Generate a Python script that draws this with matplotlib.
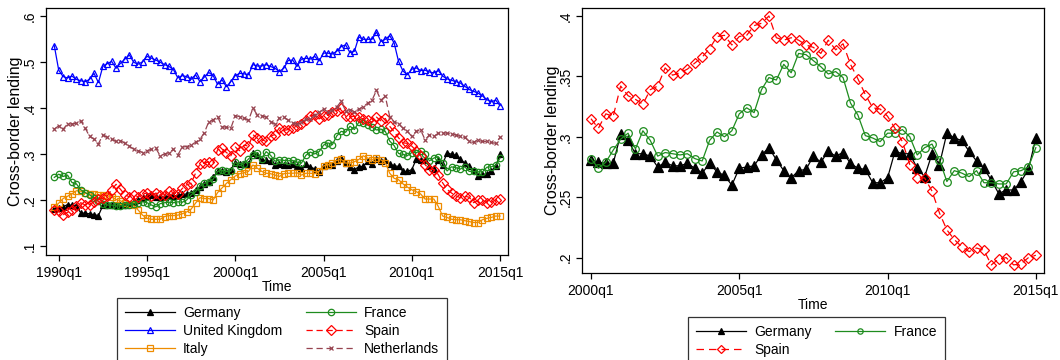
import numpy as np
import matplotlib
matplotlib.use("Agg")
import matplotlib.pyplot as plt
from matplotlib.ticker import FuncFormatter

plt.rcParams['font.family'] = ['Liberation Sans', 'DejaVu Sans']

# quarters counted from 1990q1 (0) ; left panel runs 1989q4..2015q1, right 2000q1..2015q1
t_left = np.arange(-1, 101)
t_right = np.arange(40, 101)

# 2000q1 - 2015q1
germany_00 = [0.281, 0.279, 0.278, 0.278, 0.302, 0.297, 0.286, 0.286, 0.284, 0.275,
              0.279, 0.276, 0.276, 0.278, 0.274, 0.270, 0.278, 0.271, 0.268, 0.260,
              0.274, 0.275, 0.276, 0.285, 0.291, 0.281, 0.272, 0.266, 0.272, 0.273,
              0.284, 0.279, 0.288, 0.284, 0.287, 0.278, 0.274, 0.273, 0.262, 0.262,
              0.266, 0.288, 0.286, 0.286, 0.274, 0.267, 0.286, 0.277, 0.303, 0.299,
              0.297, 0.288, 0.280, 0.274, 0.264, 0.253, 0.256, 0.256, 0.263, 0.273,
              0.299]
france_00 = [0.282, 0.274, 0.279, 0.289, 0.298, 0.303, 0.290, 0.305, 0.297, 0.284,
             0.287, 0.286, 0.285, 0.286, 0.282, 0.280, 0.297, 0.304, 0.300, 0.305,
             0.319, 0.324, 0.320, 0.339, 0.349, 0.347, 0.360, 0.353, 0.369, 0.368,
             0.363, 0.358, 0.352, 0.354, 0.349, 0.328, 0.318, 0.301, 0.299, 0.296,
             0.303, 0.303, 0.306, 0.300, 0.285, 0.291, 0.294, 0.281, 0.263, 0.272,
             0.270, 0.267, 0.272, 0.262, 0.262, 0.261, 0.261, 0.271, 0.272, 0.275,
             0.291]
spain_00 = [0.315, 0.307, 0.319, 0.317, 0.342, 0.334, 0.331, 0.327, 0.339, 0.342,
            0.357, 0.351, 0.353, 0.356, 0.361, 0.366, 0.373, 0.383, 0.384, 0.376,
            0.383, 0.384, 0.392, 0.394, 0.400, 0.382, 0.380, 0.382, 0.380, 0.376,
            0.374, 0.369, 0.380, 0.372, 0.377, 0.360, 0.348, 0.335, 0.324, 0.323,
            0.317, 0.307, 0.296, 0.277, 0.266, 0.266, 0.255, 0.237, 0.223, 0.215,
            0.209, 0.205, 0.208, 0.206, 0.194, 0.199, 0.200, 0.194, 0.195, 0.200,
            0.202]

# 1989q4 - 1999q4
germany_90 = [0.180, 0.182, 0.185, 0.190, 0.188, 0.186, 0.172, 0.171, 0.170, 0.168,
              0.166, 0.188, 0.189, 0.190, 0.188, 0.188, 0.190, 0.192, 0.196, 0.200,
              0.204, 0.208, 0.210, 0.207, 0.207, 0.206, 0.209, 0.209, 0.210, 0.212,
              0.213, 0.216, 0.221, 0.228, 0.234, 0.238, 0.250, 0.262, 0.263, 0.260,
              0.266]
france_90 = [0.249, 0.256, 0.251, 0.254, 0.238, 0.235, 0.222, 0.216, 0.211, 0.204,
             0.197, 0.191, 0.189, 0.189, 0.187, 0.187, 0.189, 0.190, 0.192, 0.194,
             0.196, 0.194, 0.189, 0.185, 0.192, 0.194, 0.195, 0.194, 0.196, 0.195,
             0.200, 0.211, 0.218, 0.230, 0.236, 0.240, 0.245, 0.262, 0.264, 0.262,
             0.262]
spain_90 = [0.178, 0.175, 0.168, 0.173, 0.178, 0.186, 0.194, 0.189, 0.190, 0.196,
            0.201, 0.204, 0.209, 0.222, 0.234, 0.223, 0.211, 0.207, 0.211, 0.207,
            0.213, 0.215, 0.209, 0.215, 0.211, 0.211, 0.220, 0.216, 0.213, 0.225,
            0.233, 0.236, 0.258, 0.278, 0.280, 0.283, 0.281, 0.309, 0.312, 0.303,
            0.296]

# 1989q4 - 2015q1
uk = [0.535, 0.482, 0.468, 0.465, 0.469, 0.462, 0.459, 0.457, 0.462, 0.475,
      0.455, 0.490, 0.496, 0.501, 0.486, 0.497, 0.506, 0.515, 0.499, 0.495,
      0.500, 0.512, 0.508, 0.504, 0.499, 0.494, 0.490, 0.483, 0.465, 0.470,
      0.468, 0.462, 0.472, 0.457, 0.467, 0.477, 0.470, 0.451, 0.461, 0.446,
      0.457, 0.470, 0.475, 0.474, 0.472, 0.494, 0.491, 0.491, 0.494, 0.490,
      0.486, 0.479, 0.486, 0.503, 0.504, 0.490, 0.506, 0.508, 0.506, 0.512,
      0.502, 0.519, 0.519, 0.517, 0.523, 0.533, 0.537, 0.520, 0.523, 0.554,
      0.549, 0.549, 0.549, 0.565, 0.544, 0.549, 0.557, 0.541, 0.501, 0.480,
      0.472, 0.484, 0.487, 0.481, 0.482, 0.478, 0.476, 0.481, 0.469, 0.463,
      0.460, 0.457, 0.454, 0.447, 0.440, 0.436, 0.432, 0.426, 0.418, 0.413,
      0.417, 0.405]
italy = [0.184, 0.193, 0.203, 0.208, 0.213, 0.220, 0.219, 0.215, 0.213, 0.212,
         0.210, 0.211, 0.209, 0.206, 0.201, 0.198, 0.194, 0.191, 0.188, 0.178,
         0.167, 0.160, 0.158, 0.158, 0.158, 0.164, 0.166, 0.166, 0.167, 0.170,
         0.174, 0.180, 0.193, 0.205, 0.203, 0.203, 0.200, 0.216, 0.226, 0.236,
         0.244, 0.252, 0.257, 0.259, 0.262, 0.276, 0.269, 0.262, 0.258, 0.257,
         0.254, 0.251, 0.257, 0.258, 0.258, 0.259, 0.254, 0.258, 0.258, 0.257,
         0.262, 0.274, 0.276, 0.281, 0.286, 0.288, 0.280, 0.280, 0.283, 0.288,
         0.296, 0.291, 0.287, 0.291, 0.287, 0.281, 0.258, 0.247, 0.244, 0.235,
         0.228, 0.222, 0.218, 0.213, 0.202, 0.202, 0.202, 0.186, 0.165, 0.162,
         0.158, 0.157, 0.157, 0.155, 0.153, 0.151, 0.151, 0.157, 0.160, 0.162,
         0.165, 0.165]
netherlands = [0.354, 0.361, 0.354, 0.365, 0.365, 0.367, 0.372, 0.356, 0.338, 0.332,
               0.322, 0.341, 0.336, 0.332, 0.327, 0.329, 0.323, 0.317, 0.310, 0.307,
               0.303, 0.307, 0.310, 0.312, 0.296, 0.300, 0.303, 0.310, 0.298, 0.315,
               0.316, 0.320, 0.325, 0.332, 0.346, 0.370, 0.374, 0.381, 0.359, 0.358,
               0.356, 0.383, 0.381, 0.378, 0.373, 0.399, 0.385, 0.383, 0.380, 0.370,
               0.365, 0.378, 0.380, 0.373, 0.368, 0.365, 0.370, 0.375, 0.375, 0.385,
               0.390, 0.397, 0.390, 0.396, 0.402, 0.414, 0.394, 0.396, 0.392, 0.397,
               0.403, 0.410, 0.417, 0.438, 0.417, 0.425, 0.381, 0.370, 0.365, 0.356,
               0.349, 0.338, 0.349, 0.352, 0.331, 0.341, 0.338, 0.345, 0.346, 0.345,
               0.344, 0.341, 0.338, 0.336, 0.327, 0.325, 0.331, 0.327, 0.327, 0.325,
               0.323, 0.336]

germany = germany_90 + germany_00
france = france_90 + france_00
spain = spain_90 + spain_00

ticks_left = [0, 20, 40, 60, 80, 100]
labels_left = ['1990q1', '1995q1', '2000q1', '2005q1', '2010q1', '2015q1']
ticks_right = [40, 60, 80, 100]
labels_right = ['2000q1', '2005q1', '2010q1', '2015q1']

c_ger, c_uk, c_ita = 'black', '#0000ff', '#ee8c00'
c_fra, c_spa, c_ned = '#1e8c1e', '#ff0000', '#974450'

W, H = 1060, 360
fig = plt.figure(figsize=(W / 100, H / 100), dpi=100)
ax1 = fig.add_axes([46 / W, 1 - 255 / H, 462 / W, 247 / H])
ax2 = fig.add_axes([582 / W, 1 - 273 / H, 462 / W, 265 / H])


def dotless(v, pos):
    s = ('%.2f' % v).rstrip('0')
    return s[1:] if s.startswith('0') else s


def style(ax, xt, xl):
    for sp in ax.spines.values():
        sp.set_linewidth(0.9)
    ax.set_xticks(xt)
    ax.set_xticklabels(xl)
    ax.tick_params(direction='out', length=4.3, width=0.9, labelsize=10, colors='black')
    ax.tick_params(axis='y', labelrotation=90, pad=2.6)
    for lab in ax.get_yticklabels():
        lab.set_va('center')
    ax.yaxis.set_major_formatter(FuncFormatter(dotless))
    ax.set_xlabel('Time', fontsize=10, labelpad=0)
    ax.set_ylabel('Cross-border lending', fontsize=11.5)
    # rotated label anchored ~22 px left of the spine
    ax.yaxis.set_label_coords(-22.5 / 462, 0.5)


ms = 4.6
kw = dict(lw=0.9, mew=0.9, ms=ms)
h_ger, = ax1.plot(t_left, germany, color=c_ger, marker='^', **kw, label='Germany')
h_uk, = ax1.plot(t_left, uk, color=c_uk, marker='^', mfc='none', **kw, label='United Kingdom')
h_ita, = ax1.plot(t_left, italy, color=c_ita, marker='s', mfc='none', **kw, label='Italy')
h_fra, = ax1.plot(t_left, france, color=c_fra, marker='o', mfc='none', **kw, label='France')
h_spa, = ax1.plot(t_left, spain, color=c_spa, marker='D', mfc='none', dashes=(5, 3), **kw, label='Spain')
h_ned, = ax1.plot(t_left, netherlands, color=c_ned, marker='x', dashes=(5, 3), lw=0.9, mew=0.9, ms=3.5,
                  label='Netherlands')
style(ax1, ticks_left, labels_left)
ax1.set_yticks([0.1, 0.2, 0.3, 0.4, 0.5, 0.6])
ax1.set_xlim(-2.88, 101.8)
ax1.set_ylim(0.0804, 0.617)

kw2 = dict(lw=0.9, mew=0.9)
g_ger, = ax2.plot(t_right, germany_00, color=c_ger, marker='^', ms=6.5, **kw2, label='Germany')
g_fra, = ax2.plot(t_right, france_00, color=c_fra, marker='o', mfc='none', ms=5.5, **kw2, label='France')
g_spa, = ax2.plot(t_right, spain_00, color=c_spa, marker='D', mfc='none', ms=5.5, dashes=(6, 4), **kw2,
                  label='Spain')
style(ax2, ticks_right, labels_right)
ax2.set_yticks([0.2, 0.25, 0.3, 0.35, 0.4])
ax2.set_xlim(38.79, 101.1)
ax2.set_ylim(0.1873, 0.4066)

leg_kw = dict(ncol=2, frameon=True, fancybox=False, edgecolor='black', fontsize=10,
              handlelength=3.6, handletextpad=0.6, columnspacing=1.7, labelspacing=0.3,
              borderpad=0.55, borderaxespad=0, loc='upper left', numpoints=1)
l1 = fig.legend([h_ger, h_uk, h_ita, h_fra, h_spa, h_ned],
                ['Germany', 'United Kingdom', 'Italy', 'France', 'Spain', 'Netherlands'],
                bbox_to_anchor=(117 / W, 1 - 298 / H), **leg_kw)
l2 = fig.legend([g_ger, g_spa, g_fra], ['Germany', 'Spain', 'France'], markerscale=0.7,
                bbox_to_anchor=(688 / W, 1 - 317 / H), **leg_kw)
for lg in (l1, l2):
    lg.get_frame().set_linewidth(0.9)

fig.savefig('out.png', dpi=100)
